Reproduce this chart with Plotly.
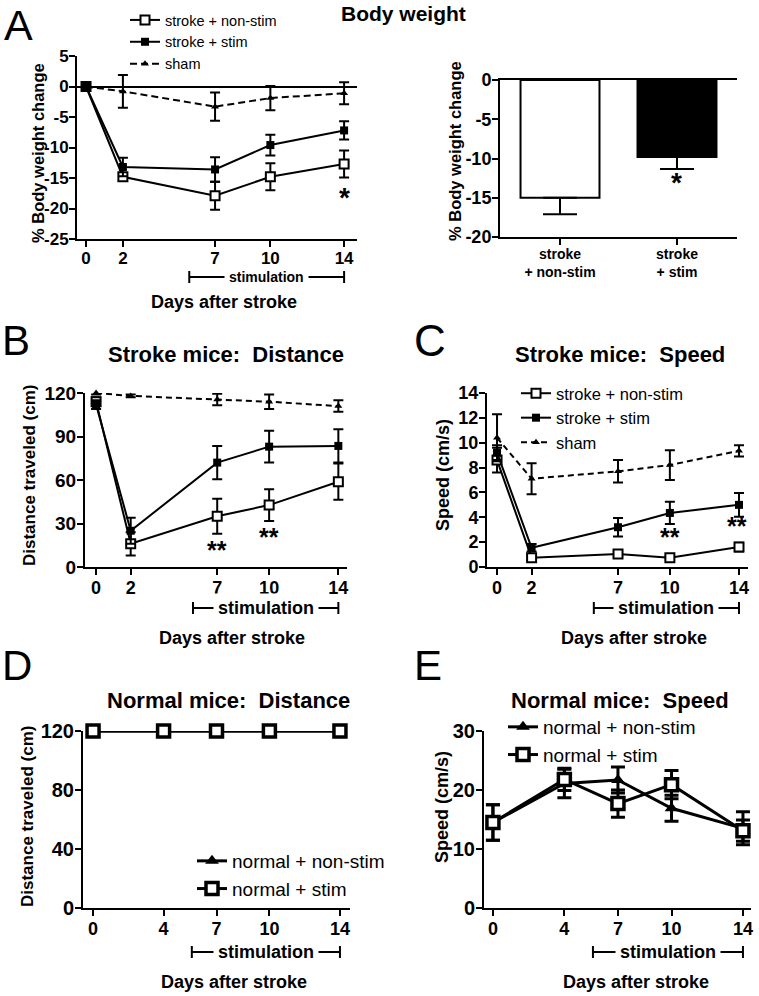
import plotly.graph_objects as go

W, H = 759, 996

# ---- data ----
days_stroke = [0, 2, 7, 10, 14]
days_normal = [0, 4, 7, 10, 14]

# A: % body weight change
bw_nonstim = [0, -14.8, -17.9, -14.8, -12.7]
bw_nonstim_err = [0, 0.6, 2.3, 2.2, 2.2]
bw_stim = [0, -13.2, -13.6, -9.6, -7.2]
bw_stim_err = [0, 1.5, 2.0, 1.7, 1.5]
bw_sham = [0, -0.8, -3.3, -1.9, -1.1]
bw_sham_err = [0, 2.7, 2.3, 2.0, 1.8]

# A (right): mean body weight change
bar_groups = ["stroke<br>+ non-stim", "stroke<br>+ stim"]
bar_means = [-15.0, -9.8]
bar_sem = [2.1, 1.55]

# B: stroke mice distance (cm)
dist_nonstim = [114, 16, 35, 42.7, 58.8]
dist_nonstim_err = [3, 8, 12, 11, 12.5]
dist_stim = [112, 25, 72, 83, 83.5]
dist_stim_err = [3, 9, 11.5, 11, 11.5]
dist_sham = [120, 118, 115.5, 114, 111]
dist_sham_err = [1, 1, 4, 5, 4]

# C: stroke mice speed (cm/s)
spd_nonstim = [8.6, 0.75, 1.05, 0.75, 1.6]
spd_nonstim_err = [1.0, 0.2, 0.2, 0.15, 0.35]
spd_stim = [9.2, 1.55, 3.2, 4.35, 5.0]
spd_stim_err = [0.6, 0.3, 0.75, 0.9, 0.95]
spd_sham = [10.4, 7.1, 7.7, 8.2, 9.35]
spd_sham_err = [1.9, 1.25, 0.9, 1.2, 0.45]

# D: normal mice distance (cm)
ndist_nonstim = [120, 120, 120, 120, 120]
ndist_nonstim_err = [0.5, 0.5, 0.5, 0.5, 0.5]
ndist_stim = [120, 120, 120, 120, 120]
ndist_stim_err = [0.5, 0.5, 0.5, 0.5, 0.5]

# E: normal mice speed (cm/s)
nspd_nonstim = [14.5, 21.1, 21.7, 16.9, 13.5]
nspd_nonstim_err = [3.0, 2.4, 2.2, 2.2, 2.8]
nspd_stim = [14.5, 21.8, 17.7, 20.9, 13.1]
nspd_stim_err = [3.0, 1.9, 2.3, 2.4, 1.8]

# tick values
yticks_bw = [-25, -20, -15, -10, -5, 0, 5]
yticks_bar = [-20, -15, -10, -5, 0]
yticks_dist = [0, 30, 60, 90, 120]
yticks_spd = [0, 2, 4, 6, 8, 10, 12, 14]
yticks_ndist = [0, 40, 80, 120]
yticks_nspd = [0, 10, 20, 30]

stim_start, stim_end = 5.6, 14

FONT = "Liberation Sans"


def px(x):
    return x / W


def py(y):
    return 1 - y / H


def bold(vals):
    return [f"<b>{v}</b>" for v in vals]


def series(x, y, err, name, kind, axis, legend, size=8, dash=None, rank=None, lw=2):
    # kind: open square, filled square or triangle
    if kind == "open":
        marker = dict(symbol="square", size=size + 1, color="white",
                      line=dict(color="black", width=lw if lw > 2 else 2))
    elif kind == "filled":
        marker = dict(symbol="square", size=size, color="black")
    else:
        marker = dict(symbol="triangle-up", size=size, color="black")
    return go.Scatter(
        x=x, y=y, name=name, mode="lines+markers",
        xaxis="x" + axis, yaxis="y" + axis, legend=legend,
        legendrank=rank if rank is not None else 1000,
        cliponaxis=False,
        line=dict(color="black", width=lw, dash=dash or "solid"),
        marker=marker,
        error_y=dict(type="data", array=err, color="black", thickness=lw,
                     width=5 if lw <= 2 else 7),
    )


fig = go.Figure()

# A - line
fig.add_trace(series(days_stroke, bw_nonstim, bw_nonstim_err, "stroke + non-stim", "open", "", "legend"))
fig.add_trace(series(days_stroke, bw_stim, bw_stim_err, "stroke + stim", "filled", "", "legend"))
fig.add_trace(series(days_stroke, bw_sham, bw_sham_err, "sham", "tri", "", "legend", size=7, dash="7px,4px"))

# A - bars
fig.add_trace(go.Bar(
    x=[0, 1], y=bar_means, xaxis="x2", yaxis="y2", width=0.675, showlegend=False,
    marker=dict(color=["white", "black"], line=dict(color="black", width=2)),
    error_y=dict(type="data", symmetric=False, array=[0, 0], arrayminus=bar_sem,
                 color="black", thickness=2, width=17),
))

# B
fig.add_trace(series(days_stroke, dist_nonstim, dist_nonstim_err, "stroke + non-stim", "open", "3", "legend2"))
fig.add_trace(series(days_stroke, dist_stim, dist_stim_err, "stroke + stim", "filled", "3", "legend2"))
fig.add_trace(series(days_stroke, dist_sham, dist_sham_err, "sham", "tri", "3", "legend2", size=7, dash="6px,4px"))
for t in fig.data[-3:]:
    t.showlegend = False

# C
fig.add_trace(series(days_stroke, spd_nonstim, spd_nonstim_err, "stroke + non-stim", "open", "4", "legend2"))
fig.add_trace(series(days_stroke, spd_stim, spd_stim_err, "stroke + stim", "filled", "4", "legend2"))
fig.add_trace(series(days_stroke, spd_sham, spd_sham_err, "sham", "tri", "4", "legend2", size=7, dash="6px,4px"))

# D
fig.add_trace(series(days_normal, ndist_nonstim, ndist_nonstim_err, "normal + non-stim", "tri", "5", "legend3", size=12, rank=1, lw=3))
fig.add_trace(series(days_normal, ndist_stim, ndist_stim_err, "normal + stim", "open", "5", "legend3", size=11, rank=2, lw=3.5))

# E
fig.add_trace(series(days_normal, nspd_nonstim, nspd_nonstim_err, "normal + non-stim", "tri", "6", "legend4", size=12, rank=1, lw=3))
fig.add_trace(series(days_normal, nspd_stim, nspd_stim_err, "normal + stim", "open", "6", "legend4", size=11, rank=2, lw=3.5))
fig.data[-1].line.width = 3
fig.data[-3].line.width = 3
fig.data[-1].error_y.thickness = 3
fig.data[-3].error_y.thickness = 3

axis_style = dict(showline=True, linecolor="black", linewidth=2, ticks="outside",
                  ticklen=6, tickwidth=2, tickcolor="black", showgrid=False,
                  zeroline=False, fixedrange=True, ticklabelstandoff=-3)


def tf(size):
    return dict(family=FONT, size=size, color="black")


layout_axes = dict(
    # A line
    xaxis=dict(axis_style, domain=[px(77), px(357)], range=[-0.49, 14.7], anchor="y",
               tickvals=days_stroke, ticktext=bold(days_stroke), tickfont=tf(17)),
    yaxis=dict(axis_style, domain=[py(239), py(56)], range=[-25, 5], anchor="x",
               tickvals=yticks_bw, ticktext=bold(yticks_bw), tickfont=tf(17),
               zeroline=True, zerolinecolor="black", zerolinewidth=1.5),
    # A bars
    xaxis2=dict(axis_style, domain=[px(500), px(737)], range=[-0.513, 1.513], anchor="y2",
                tickvals=[0, 1], ticktext=bold(bar_groups), tickfont=tf(14), mirror=True),
    yaxis2=dict(axis_style, domain=[py(237), py(80)], range=[-20, 0], anchor="x2",
                tickvals=yticks_bar, ticktext=bold(yticks_bar), tickfont=tf(18)),
    # B
    xaxis3=dict(axis_style, domain=[px(85), px(347)], range=[-0.64, 14.5], anchor="y3",
                tickvals=days_stroke, ticktext=bold(days_stroke), tickfont=tf(18)),
    yaxis3=dict(axis_style, domain=[py(567), py(393)], range=[0, 120], anchor="x3",
                tickvals=yticks_dist, ticktext=bold(yticks_dist), tickfont=tf(19)),
    # C
    xaxis4=dict(axis_style, domain=[px(487), px(748)], range=[-0.58, 14.52], anchor="y4",
                tickvals=days_stroke, ticktext=bold(days_stroke), tickfont=tf(18)),
    yaxis4=dict(axis_style, domain=[py(567), py(393)], range=[0, 14], anchor="x4",
                tickvals=yticks_spd, ticktext=bold(yticks_spd), tickfont=tf(18)),
    # D
    xaxis5=dict(axis_style, domain=[px(83), px(350)], range=[-0.57, 14.57], anchor="y5",
                tickvals=days_normal, ticktext=bold(days_normal), tickfont=tf(18)),
    yaxis5=dict(axis_style, domain=[py(908), py(731)], range=[0, 120], anchor="x5",
                tickvals=yticks_ndist, ticktext=bold(yticks_ndist), tickfont=tf(20)),
    # E
    xaxis6=dict(axis_style, domain=[px(484), px(751)], range=[-0.5, 14.45], anchor="y6",
                tickvals=days_normal, ticktext=bold(days_normal), tickfont=tf(18)),
    yaxis6=dict(axis_style, domain=[py(908), py(731)], range=[0, 30], anchor="x6",
                tickvals=yticks_nspd, ticktext=bold(yticks_nspd), tickfont=tf(20)),
)

annotations = []
shapes = []


def text(x, y, s, size, bold=True, angle=0, xref="paper", yref="paper", **kw):
    annotations.append(dict(
        x=x, y=y, xref=xref, yref=yref, text=s, showarrow=False, textangle=angle,
        font=dict(family=FONT, size=size, color="black", weight="bold" if bold else "normal"),
        xanchor="center", yanchor="middle", **kw))


# panel letters
text(px(18), py(25), "A", 43, bold=False)
text(px(16), py(340), "B", 42, bold=False)
text(px(430), py(340), "C", 44, bold=False)
text(px(17), py(665), "D", 42, bold=False)
text(px(428), py(665), "E", 42, bold=False)

# titles
text(px(403), py(14), "Body weight", 21)
text(px(226), py(354), "Stroke mice:  Distance", 22)
text(px(620), py(354), "Stroke mice:  Speed", 22)
text(px(228), py(700), "Normal mice:  Distance", 22)
text(px(620), py(700), "Normal mice:  Speed", 22)

# y titles
text(px(38), py(153), "% Body weight change", 16.5, angle=-90)
text(px(455), py(151), "% Body weight change", 16.5, angle=-90)
text(px(30), py(476), "Distance traveled (cm)", 17, angle=-90)
text(px(443), py(475), "Speed (cm/s)", 18, angle=-90)
text(px(27), py(817), "Distance traveled (cm)", 17, angle=-90)
text(px(442), py(807), "Speed (cm/s)", 18, angle=-90)

# x titles
text(px(224), py(302), "Days after stroke", 18)
text(px(232), py(638), "Days after stroke", 18)
text(px(634), py(638), "Days after stroke", 18)
text(px(234), py(982), "Days after stroke", 18)
text(px(636), py(982), "Days after stroke", 18)

# stimulation brackets
for axis, ybar, size in [("", 277, 14), ("3", 608, 18), ("4", 608, 18), ("5", 952, 18), ("6", 952, 18)]:
    xr = "x" + axis
    shapes.append(dict(type="line", xref=xr, yref="paper", x0=stim_start, x1=stim_end,
                       y0=py(ybar), y1=py(ybar), line=dict(color="black", width=2)))
    for xe in (stim_start, stim_end):
        shapes.append(dict(type="line", xref=xr, yref="paper", x0=xe, x1=xe,
                           y0=py(ybar - 6), y1=py(ybar + 6), line=dict(color="black", width=2)))
    text((stim_start + stim_end) / 2, py(ybar), "stimulation", size, xref=xr,
         bgcolor="white", borderpad=4)

# significance marks
text(14, -18.2, "*", 28, xref="x", yref="y")
text(1, -13.0, "*", 28, xref="x2", yref="y2")
text(7, 12, "**", 25, xref="x3", yref="y3")
text(10, 21, "**", 25, xref="x3", yref="y3")
text(10, 2.4, "**", 25, xref="x4", yref="y4")
text(13.9, 3.3, "**", 25, xref="x4", yref="y4")

legend_base = dict(bgcolor="rgba(0,0,0,0)", itemwidth=30, tracegroupgap=0,
                   xanchor="left", yanchor="top", traceorder="normal")

fig.update_layout(
    width=W, height=H, margin=dict(l=0, r=0, t=0, b=0, autoexpand=False),
    paper_bgcolor="white", plot_bgcolor="white", showlegend=True,
    font=dict(family=FONT, color="black"),
    annotations=annotations, shapes=shapes,
    legend=dict(legend_base, x=px(125), y=py(4), font=dict(family=FONT, size=14.5, color="black")),
    legend2=dict(legend_base, x=px(516), y=py(376), font=dict(family=FONT, size=16.5, color="black")),
    legend3=dict(legend_base, x=px(192), y=py(842), font=dict(family=FONT, size=19, color="black")),
    legend4=dict(legend_base, x=px(503), y=py(708), font=dict(family=FONT, size=19, color="black")),
    **layout_axes,
)

pin = ("document.documentElement.style.overflow='hidden';"
       "document.body.style.margin='0';document.body.style.overflow='hidden';"
       "var g=document.getElementsByClassName('plotly-graph-div')[0];"
       "g.style.position='fixed';g.style.top='0';g.style.left='0';")

fig.write_html("out.html", config={"displayModeBar": False}, post_script=pin)
